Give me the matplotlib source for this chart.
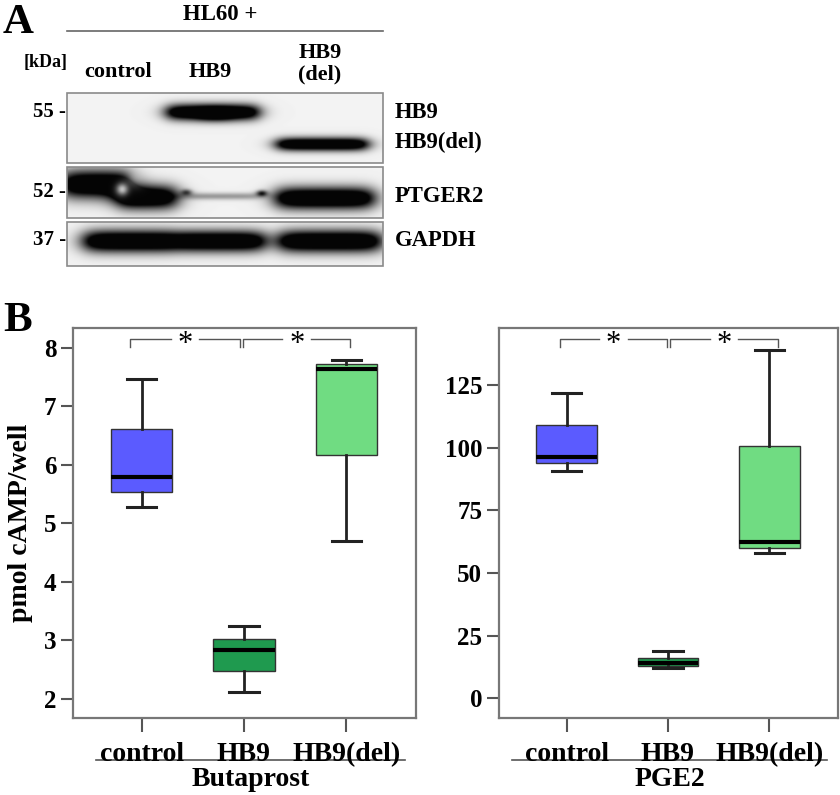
import numpy as np
import matplotlib
matplotlib.use('Agg')
import matplotlib.pyplot as plt
from matplotlib.transforms import ScaledTranslation

plt.rcParams['font.family'] = ['Liberation Serif', 'DejaVu Serif']
plt.rcParams['font.weight'] = 'bold'

# --- data ---
groups = ['control', 'HB9', 'HB9(del)']
box_colors = ['#5b5bff', '#1f9a4f', '#70dc82']

buta_whislo = [5.28, 2.12, 4.70]
buta_q1 = [5.54, 2.48, 6.17]
buta_med = [5.79, 2.84, 7.64]
buta_q3 = [6.62, 3.03, 7.72]
buta_whishi = [7.46, 3.24, 7.79]

pge_whislo = [90.7, 12.2, 57.8]
pge_q1 = [93.7, 12.9, 60.1]
pge_med = [96.4, 14.0, 62.2]
pge_q3 = [109.0, 16.2, 100.8]
pge_whishi = [121.9, 18.9, 139.0]

buta_ticks = [2, 3, 4, 5, 6, 7, 8]
pge_ticks = [0, 25, 50, 75, 100, 125]

W, H = 840, 795
fig = plt.figure(figsize=(W / 100, H / 100), dpi=100)

# overlay in pixel coordinates for panel A and free text
ov = fig.add_axes([0, 0, 1, 1])
ov.set_xlim(0, W)
ov.set_ylim(H, 0)
ov.axis('off')


# --- panel A : western blot (synthetic look-alike) ---
def band(X, Y, x0, x1, yc, hh, s=5.0, amp=1.0):
    sx = 1 / (1 + np.exp(-(X - x0) / s)) * 1 / (1 + np.exp(-(x1 - X) / s))
    sy = np.exp(-((Y - yc) / hh) ** 2)
    return amp * sx * sy


def blot(y0, y1, bands, spots=()):
    x0, x1 = 67, 383
    X, Y = np.meshgrid(np.arange(x0, x1, 0.5), np.arange(y0, y1, 0.5))
    d = np.zeros_like(X)
    for b in bands:
        d += band(X, Y, *b)
    d = np.clip(d * 1.5, 0, 1)
    for (sx, sy, r, k) in spots:
        d *= 1 - k * np.exp(-((X - sx) ** 2 + (Y - sy) ** 2) / r ** 2)
    img = 0.95 - 0.93 * d
    ov.imshow(img, cmap='gray', vmin=0, vmax=1, extent=(x0, x1, y1, y0),
              aspect='auto', interpolation='bilinear', zorder=1)
    ov.add_patch(plt.Rectangle((x0, y0), x1 - x0, y1 - y0, fill=False,
                               ec='#8a8a8a', lw=1.2, zorder=2))


blot(93, 163, [(167, 258, 112, 8, 5), (200, 230, 114, 7, 6, 0.4),
               (277, 367, 144, 6.5, 5)])
blot(167, 218, [(62, 132, 184, 14, 6), (118, 176, 197, 12, 6),
                (182, 262, 196, 3.5, 6, 0.25), (183, 190, 192, 3, 2, 0.5),
                (258, 265, 193, 3, 2, 0.7), (276, 373, 198, 11, 6)],
     spots=[(122, 189, 6, 0.8), (135, 178, 9, 0.35)])
blot(222, 266, [(84, 176, 241, 11, 6), (177, 264, 241, 10.5, 6),
                (279, 380, 241, 11, 6)])

ov.text(3, 33, 'A', fontsize=31, ha='left', va='baseline')
ov.text(220, 15, 'HL60 +', fontsize=16.5, ha='center', va='center')
ov.plot([67, 383], [31, 31], color='#666666', lw=1.2)
ov.text(46, 63, '[kDa]', fontsize=13, ha='center', va='center')
ov.text(118, 72, 'control', fontsize=16, ha='center', va='center')
ov.text(210, 72, 'HB9', fontsize=16, ha='center', va='center')
ov.text(320, 64, 'HB9\n(del)', fontsize=16, ha='center', va='center',
        linespacing=1.1)
for lab, y in [('55 -', 112), ('52 -', 192), ('37 -', 240)]:
    ov.text(66, y, lab, fontsize=15, ha='right', va='center')
for lab, y in [('HB9', 112), ('HB9(del)', 142), ('PTGER2', 197),
               ('GAPDH', 240)]:
    ov.text(395, y, lab, fontsize=16.3, ha='left', va='center')

# --- panel B : box plots ---
ov.text(3, 331, 'B', fontsize=31, ha='left', va='baseline')
ov.text(21, 523, 'pmol cAMP/well', fontsize=20, rotation=90,
        ha='center', va='center')


def boxpanel(rect, lo, q1, med, q3, hi, ylim, ticks, brk, title, line_x):
    ax = fig.add_axes(rect)
    stats = [dict(whislo=a, q1=b, med=c, q3=d, whishi=e, fliers=[])
             for a, b, c, d, e in zip(lo, q1, med, q3, hi)]
    res = ax.bxp(stats, positions=[1, 2, 3], widths=0.6, capwidths=0.29,
                 patch_artist=True, showfliers=False,
                 boxprops=dict(edgecolor='#333333', lw=1.0),
                 medianprops=dict(color='black', lw=3),
                 whiskerprops=dict(color='#222222', lw=2),
                 capprops=dict(color='#222222', lw=2.2))
    for p, c in zip(res['boxes'], box_colors):
        p.set_facecolor(c)
    ax.set_xlim(0.33, 3.68)
    ax.set_ylim(*ylim)
    ax.set_yticks(ticks)
    ax.set_xticks([1, 2, 3])
    ax.set_xticklabels(groups, fontsize=20)
    # labels in the original are spread a little wider than the ticks
    for lbl, dx in zip(ax.get_xticklabels(), [-10, 0, 8]):
        lbl.set_transform(lbl.get_transform() +
                          ScaledTranslation(dx / 100, 0, fig.dpi_scale_trans))
    ax.tick_params(axis='y', labelsize=18, length=9, width=1.5,
                   color='#555555', pad=3)
    ax.tick_params(axis='x', length=10, width=1.5, color='#555555', pad=7)
    for sp in ax.spines.values():
        sp.set_color('#777777')
        sp.set_linewidth(1.6)
    # significance brackets
    top, bot = brk[0]
    for (xa, xb) in brk[1]:
        xm = (xa + xb) / 2
        g = 0.14
        kw = dict(color='#555555', lw=1.0)
        ax.plot([xa, xa, xm - g], [bot, top, top], **kw)
        ax.plot([xm + g, xb, xb], [top, top, bot], **kw)
        ax.annotate('*', (xm, top), xytext=(0, -4), textcoords='offset points',
                    fontsize=22, fontweight='normal', ha='center', va='center')
    ov.plot(line_x, [760, 760], color='#555555', lw=1.2)
    ov.text((line_x[0] + line_x[1]) / 2, 779, title, fontsize=20,
            ha='center', va='center')
    return ax


boxpanel([73 / W, 1 - 718 / H, 343 / W, 390 / H],
         buta_whislo, buta_q1, buta_med, buta_q3, buta_whishi,
         (1.675, 8.34), buta_ticks,
         ((8.15, 8.02), [(0.89, 1.96), (1.99, 3.04)]),
         'Butaprost', [96, 405])
boxpanel([499 / W, 1 - 718 / H, 339 / W, 390 / H],
         pge_whislo, pge_q1, pge_med, pge_q3, pge_whishi,
         (-7.9, 147.7), pge_ticks,
         ((143.2, 140.2), [(0.93, 1.99), (2.02, 3.09)]),
         'PGE2', [512, 827])

fig.savefig('out.png', dpi=100)
